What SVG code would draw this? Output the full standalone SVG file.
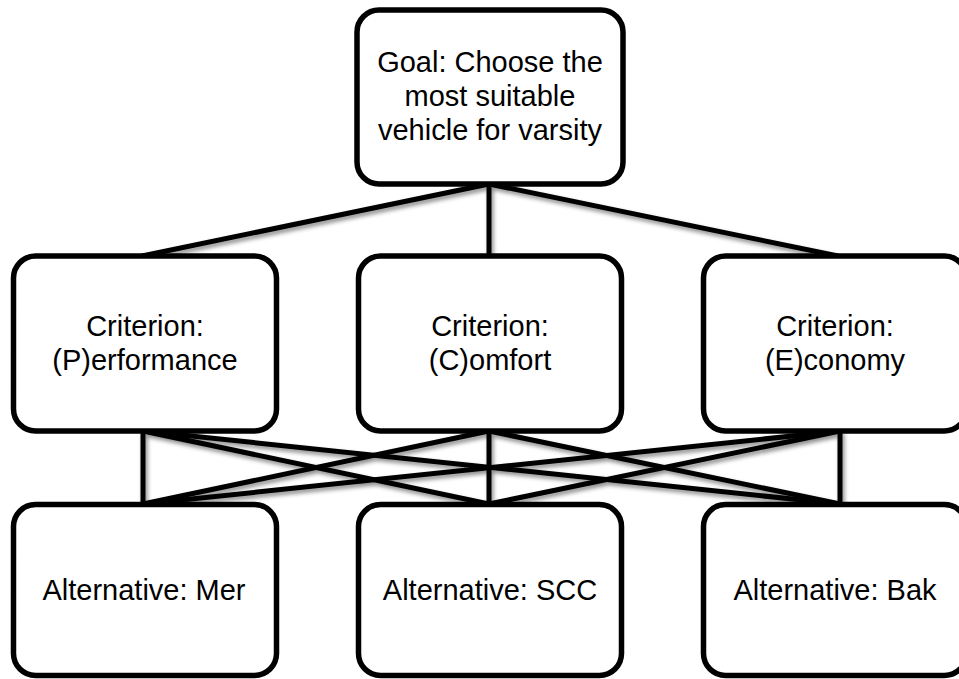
<svg xmlns="http://www.w3.org/2000/svg" width="959" height="679" viewBox="0 0 959 679">
  <defs>
    <filter id="lineShadow" x="-10%" y="-50%" width="120%" height="200%">
      <feDropShadow dx="2" dy="3" stdDeviation="2" flood-color="#000" flood-opacity="0.45"/>
    </filter>
  </defs>
  <style>
    .box { fill: #ffffff; stroke: #000000; stroke-width: 5.5; }
    .edge { stroke: #000000; stroke-width: 5; stroke-linecap: butt; fill: none; }
    .label { font-family: "Liberation Sans", Arial, sans-serif; font-size: 29px; fill: #000000; text-anchor: middle; }
  </style>
  <rect width="959" height="679" fill="#ffffff"/>

  <!-- connectors -->
  <g id="connectors" filter="url(#lineShadow)">
    <!-- goal to criteria -->
    <line class="edge" x1="489" y1="184" x2="142" y2="256"/>
    <line class="edge" x1="489" y1="184" x2="489" y2="256"/>
    <line class="edge" x1="489" y1="184" x2="838" y2="256"/>
    <!-- criteria to alternatives -->
    <line class="edge" x1="143" y1="431" x2="143" y2="504"/>
    <line class="edge" x1="143" y1="431" x2="489" y2="504"/>
    <line class="edge" x1="143" y1="431" x2="840" y2="504"/>
    <line class="edge" x1="489" y1="431" x2="143" y2="504"/>
    <line class="edge" x1="489" y1="431" x2="489" y2="504"/>
    <line class="edge" x1="489" y1="431" x2="840" y2="504"/>
    <line class="edge" x1="840" y1="431" x2="143" y2="504"/>
    <line class="edge" x1="840" y1="431" x2="489" y2="504"/>
    <line class="edge" x1="840" y1="431" x2="840" y2="504"/>
  </g>

  <!-- goal -->
  <g id="goal">
    <rect class="box" x="357" y="10" width="266" height="174" rx="22"/>
    <text class="label" x="490" y="72">Goal: Choose the</text>
    <text class="label" x="490" y="106">most suitable</text>
    <text class="label" x="490" y="140">vehicle for varsity</text>
  </g>

  <!-- criteria -->
  <g id="criterion-performance">
    <rect class="box" x="13.5" y="256" width="263" height="175" rx="22"/>
    <text class="label" x="145" y="336">Criterion:</text>
    <text class="label" x="145" y="370">(P)erformance</text>
  </g>
  <g id="criterion-comfort">
    <rect class="box" x="358.5" y="256" width="263" height="175" rx="22"/>
    <text class="label" x="490" y="336">Criterion:</text>
    <text class="label" x="490" y="370">(C)omfort</text>
  </g>
  <g id="criterion-economy">
    <rect class="box" x="703.5" y="256" width="263" height="175" rx="22"/>
    <text class="label" x="835" y="336">Criterion:</text>
    <text class="label" x="835" y="370">(E)conomy</text>
  </g>

  <!-- alternatives -->
  <g id="alternative-mer">
    <rect class="box" x="13.5" y="504.5" width="263" height="171" rx="22"/>
    <text class="label" x="144" y="600">Alternative: Mer</text>
  </g>
  <g id="alternative-scc">
    <rect class="box" x="358.5" y="504.5" width="263" height="171" rx="22"/>
    <text class="label" x="490" y="600">Alternative: SCC</text>
  </g>
  <g id="alternative-bak">
    <rect class="box" x="703.5" y="504.5" width="263" height="171" rx="22"/>
    <text class="label" x="835" y="600">Alternative: Bak</text>
  </g>
</svg>
